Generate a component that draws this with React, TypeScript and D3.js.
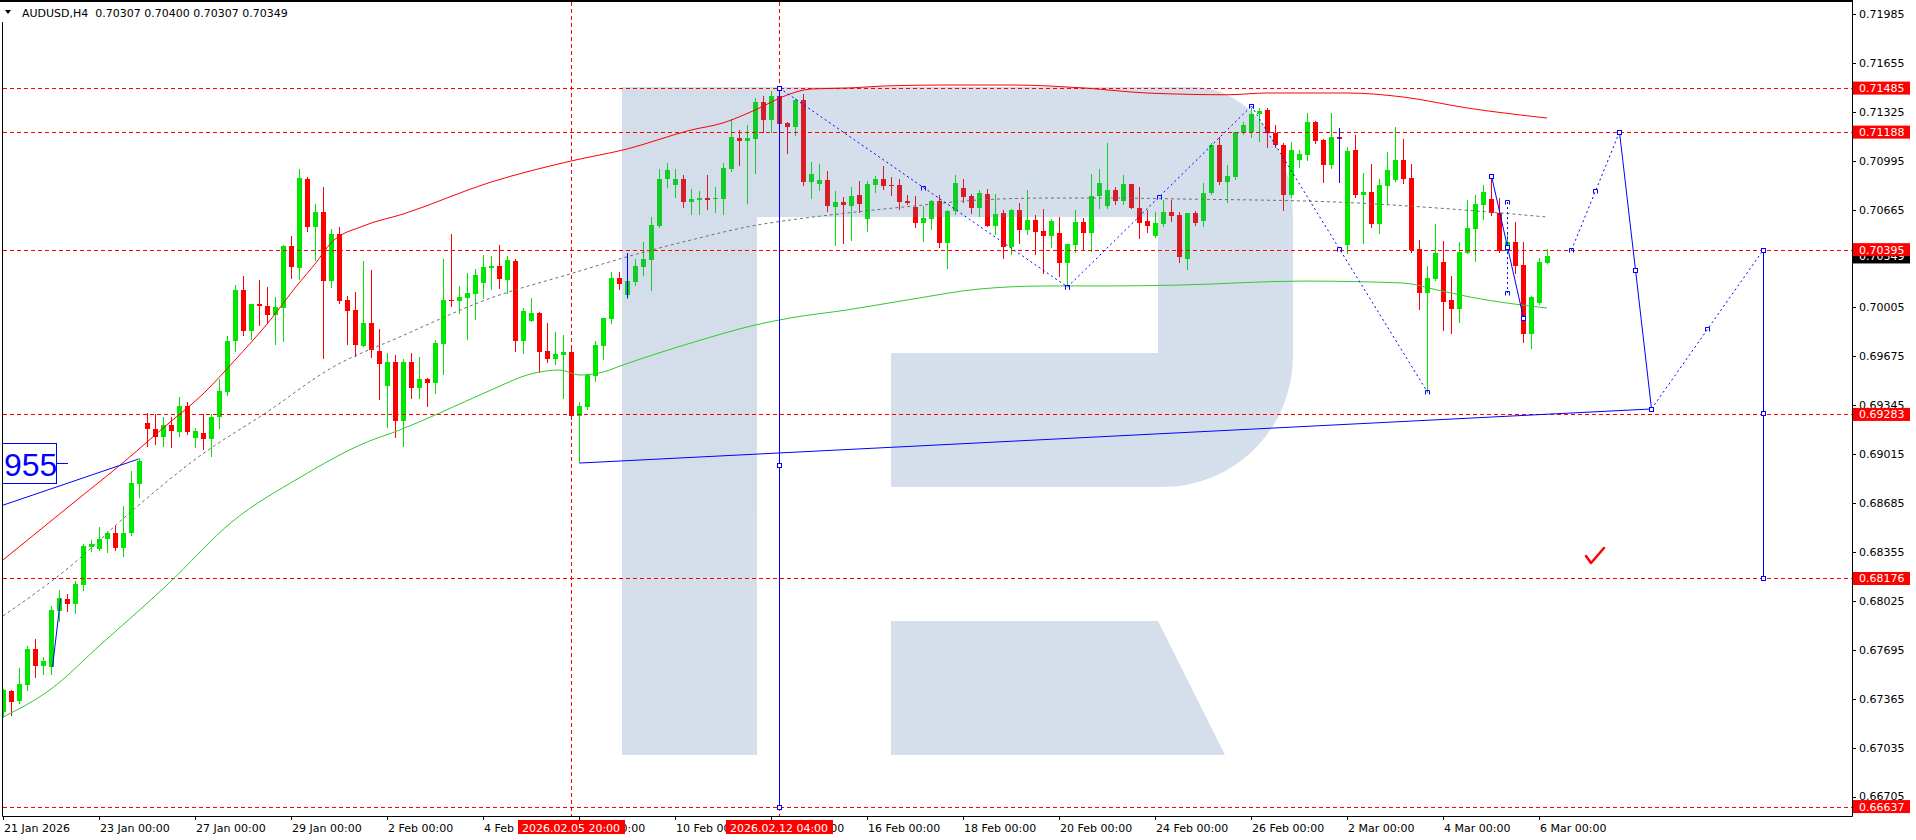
import * as d3 from "d3"

// AUDUSD H4, 21 Jan 2026 00:00 .. 6 Mar 2026 04:00 (one value per bar)
const opens = [
  0.67277, 0.67416, 0.67349, 0.67457, 0.67698, 0.67583, 0.67578, 0.67959, 0.68036, 0.68007,
  0.68132, 0.6839, 0.68378, 0.68441, 0.68482, 0.68385, 0.68482, 0.68814, 0.69224, 0.69185,
  0.69132, 0.69212, 0.69164, 0.69337, 0.69127, 0.69161, 0.6912, 0.69265, 0.69434, 0.69776,
  0.70125, 0.69848, 0.70029, 0.70017, 0.69956, 0.7, 0.70422, 0.7027, 0.70875, 0.70549,
  0.70646, 0.70181, 0.70501, 0.70053, 0.69988, 0.69747, 0.69903, 0.69711, 0.69477, 0.69634,
  0.69241, 0.69635, 0.69464, 0.69522, 0.69493, 0.69758, 0.70055, 0.70051, 0.70069, 0.70096,
  0.70172, 0.70273, 0.70285, 0.7019, 0.70318, 0.69781, 0.69916, 0.69968, 0.69711, 0.69657,
  0.69684, 0.69705, 0.69275, 0.69331, 0.69545, 0.69745, 0.69927, 0.70204, 0.70089, 0.70179,
  0.7028, 0.70325, 0.70555, 0.7087, 0.70831, 0.70872, 0.70719, 0.7073, 0.70746, 0.70737,
  0.70737, 0.70939, 0.71146, 0.7113, 0.71142, 0.71389, 0.7127, 0.71434, 0.71247, 0.71225,
  0.71405, 0.70854, 0.70838, 0.70865, 0.70685, 0.70714, 0.70692, 0.70761, 0.70604, 0.70831,
  0.70872, 0.70831, 0.70831, 0.70723, 0.70685, 0.70577, 0.70604, 0.70723, 0.70442, 0.70656,
  0.70813, 0.70757, 0.70678, 0.7077, 0.70557, 0.70645, 0.70415, 0.70663, 0.70528, 0.70595,
  0.70521, 0.70489, 0.70505, 0.70307, 0.70426, 0.70579, 0.7051, 0.70757, 0.7069, 0.70797,
  0.70726, 0.70838, 0.70674, 0.70588, 0.70489, 0.70568, 0.70647, 0.70629, 0.70334, 0.7064,
  0.70591, 0.70775, 0.71101, 0.70854, 0.70883, 0.71184, 0.71187, 0.71308, 0.71337, 0.71184,
  0.71101, 0.70764, 0.71, 0.71034, 0.71254, 0.71135, 0.70966, 0.71153, 0.70426, 0.71067,
  0.70764, 0.70782, 0.70568, 0.70825, 0.70865, 0.71, 0.70876, 0.70397, 0.70105, 0.70195,
  0.70312, 0.70055, 0.69995, 0.7037, 0.70534, 0.70696, 0.70737, 0.7064, 0.70386, 0.70444,
  0.70291, 0.69826, 0.70037, 0.70307,
]
const highs = [
  0.67433, 0.67426, 0.67573, 0.67722, 0.67771, 0.67643, 0.67988, 0.68096, 0.68072, 0.68156,
  0.68407, 0.68433, 0.68523, 0.68498, 0.6853, 0.68667, 0.68903, 0.68988, 0.69296, 0.69284,
  0.69265, 0.69265, 0.69402, 0.69368, 0.69193, 0.69284, 0.69284, 0.69525, 0.69812, 0.70157,
  0.70217, 0.70029, 0.70188, 0.70144, 0.70077, 0.70429, 0.70487, 0.7094, 0.70887, 0.70706,
  0.70819, 0.70535, 0.70549, 0.70084, 0.70108, 0.70318, 0.70258, 0.6986, 0.69699, 0.69687,
  0.69655, 0.69695, 0.69668, 0.69527, 0.69785, 0.70332, 0.70501, 0.7015, 0.70235, 0.70264,
  0.70357, 0.70355, 0.70426, 0.70352, 0.70332, 0.69999, 0.70067, 0.69977, 0.69898, 0.69842,
  0.69819, 0.69749, 0.69369, 0.69549, 0.69779, 0.69936, 0.70246, 0.70246, 0.70375, 0.7033,
  0.70449, 0.70618, 0.70937, 0.70977, 0.70937, 0.70899, 0.70802, 0.70791, 0.70899, 0.7082,
  0.70977, 0.71274, 0.71202, 0.71236, 0.7142, 0.71432, 0.71467, 0.71485, 0.71259, 0.71416,
  0.71445, 0.70989, 0.70973, 0.70926, 0.70791, 0.70753, 0.70816, 0.70858, 0.70858, 0.70894,
  0.70959, 0.70883, 0.70872, 0.70764, 0.70757, 0.70692, 0.7073, 0.70764, 0.70663, 0.70899,
  0.7087, 0.7077, 0.70797, 0.70804, 0.7077, 0.70663, 0.70667, 0.70707, 0.70797, 0.70629,
  0.70669, 0.70602, 0.70617, 0.70433, 0.70663, 0.70611, 0.70905, 0.70939, 0.71112, 0.7082,
  0.70899, 0.70838, 0.7082, 0.70663, 0.70651, 0.7073, 0.7073, 0.70651, 0.70645, 0.70656,
  0.70843, 0.71112, 0.71157, 0.70964, 0.71191, 0.71254, 0.71349, 0.71349, 0.71349, 0.71236,
  0.71112, 0.71119, 0.71067, 0.71315, 0.71263, 0.71142, 0.71315, 0.71214, 0.71085, 0.71169,
  0.7091, 0.70973, 0.7087, 0.71056, 0.71225, 0.7114, 0.70973, 0.7046, 0.70285, 0.70568,
  0.70454, 0.7022, 0.70447, 0.7073, 0.70764, 0.70831, 0.70888, 0.70741, 0.705, 0.70579,
  0.70444, 0.70082, 0.70337, 0.704,
]
const lows = [
  0.6724, 0.67252, 0.67337, 0.67421, 0.6751, 0.6753, 0.6753, 0.67891, 0.67959, 0.67944,
  0.68096, 0.68361, 0.68368, 0.68354, 0.68366, 0.6833, 0.6847, 0.68723, 0.69072, 0.69084,
  0.69072, 0.6906, 0.6914, 0.69149, 0.6906, 0.69053, 0.69005, 0.69193, 0.69414, 0.69711,
  0.69819, 0.69795, 0.69887, 0.69903, 0.69759, 0.69778, 0.70205, 0.70197, 0.70518, 0.70325,
  0.69662, 0.7014, 0.70036, 0.69759, 0.69675, 0.69747, 0.6967, 0.6939, 0.69197, 0.69132,
  0.6907, 0.69396, 0.69396, 0.69342, 0.69426, 0.69556, 0.70017, 0.69965, 0.69792, 0.69925,
  0.70071, 0.7013, 0.70136, 0.70105, 0.69711, 0.697, 0.69916, 0.69572, 0.69639, 0.69621,
  0.69392, 0.6925, 0.6896, 0.69318, 0.69511, 0.69657, 0.69898, 0.7013, 0.70071, 0.70157,
  0.70224, 0.70123, 0.7055, 0.7082, 0.7075, 0.70685, 0.70635, 0.70635, 0.70667, 0.70651,
  0.70635, 0.70926, 0.70966, 0.70712, 0.70914, 0.71191, 0.71187, 0.71235, 0.71045, 0.71169,
  0.70831, 0.70746, 0.70797, 0.70656, 0.70426, 0.70438, 0.7046, 0.70647, 0.70521, 0.70786,
  0.70804, 0.70764, 0.70667, 0.70701, 0.7055, 0.70453, 0.70534, 0.70415, 0.70274, 0.70633,
  0.70719, 0.70645, 0.70624, 0.70557, 0.70501, 0.70341, 0.70366, 0.70442, 0.70501, 0.70363,
  0.70235, 0.70415, 0.7022, 0.70163, 0.70381, 0.70397, 0.70388, 0.70674, 0.70674, 0.70703,
  0.70703, 0.70674, 0.70476, 0.70517, 0.70478, 0.70557, 0.70591, 0.70314, 0.70262, 0.70561,
  0.70555, 0.70771, 0.70838, 0.70719, 0.70872, 0.71173, 0.71157, 0.71128, 0.7109, 0.71085,
  0.70663, 0.70752, 0.70955, 0.71, 0.71117, 0.70854, 0.70948, 0.71112, 0.70375, 0.70752,
  0.70442, 0.70546, 0.7051, 0.70707, 0.70861, 0.70843, 0.70381, 0.69995, 0.69437, 0.7019,
  0.69853, 0.69835, 0.69909, 0.7037, 0.70321, 0.70602, 0.70629, 0.70381, 0.7037, 0.70235,
  0.69774, 0.69729, 0.70026, 0.70307,
]
const closes = [
  0.67421, 0.67342, 0.67465, 0.67698, 0.67583, 0.67619, 0.67963, 0.68043, 0.68007, 0.68137,
  0.68397, 0.68409, 0.68441, 0.68482, 0.68385, 0.68486, 0.68819, 0.68968, 0.69188, 0.69132,
  0.69212, 0.69168, 0.69337, 0.69164, 0.69168, 0.6912, 0.69265, 0.69441, 0.69778, 0.70125,
  0.69848, 0.70029, 0.70012, 0.69956, 0.70005, 0.70422, 0.70277, 0.7088, 0.70549, 0.70646,
  0.70181, 0.70501, 0.70048, 0.69983, 0.69752, 0.69903, 0.69715, 0.69626, 0.69634, 0.69241,
  0.69639, 0.69464, 0.6952, 0.69493, 0.69763, 0.70055, 0.70049, 0.70073, 0.701, 0.70224,
  0.70278, 0.70285, 0.70197, 0.70323, 0.69781, 0.69981, 0.69965, 0.69707, 0.69657, 0.69691,
  0.69705, 0.69275, 0.6934, 0.69549, 0.69752, 0.69936, 0.70204, 0.70165, 0.70186, 0.70285,
  0.7033, 0.70561, 0.70872, 0.70932, 0.70872, 0.70719, 0.70737, 0.70746, 0.7073, 0.70746,
  0.70944, 0.71153, 0.7113, 0.71146, 0.71389, 0.7127, 0.71434, 0.7124, 0.71225, 0.71405,
  0.70854, 0.70905, 0.70865, 0.7069, 0.70714, 0.70696, 0.70757, 0.70705, 0.70838, 0.70872,
  0.70824, 0.70826, 0.70719, 0.70707, 0.70577, 0.70611, 0.70723, 0.70442, 0.70656, 0.70847,
  0.70753, 0.70678, 0.7078, 0.70557, 0.70633, 0.70415, 0.70663, 0.70528, 0.70595, 0.70517,
  0.70489, 0.70588, 0.70307, 0.70433, 0.70579, 0.7051, 0.70757, 0.70843, 0.70797, 0.70726,
  0.70838, 0.70674, 0.70577, 0.70557, 0.70573, 0.70647, 0.70624, 0.70343, 0.7064, 0.70573,
  0.70775, 0.71101, 0.70852, 0.70892, 0.71187, 0.71236, 0.7131, 0.7133, 0.7118, 0.71101,
  0.70764, 0.71067, 0.7104, 0.71254, 0.71128, 0.70966, 0.71153, 0.71142, 0.71061, 0.70764,
  0.70782, 0.70568, 0.70831, 0.70932, 0.71, 0.70872, 0.70393, 0.70105, 0.70202, 0.7037,
  0.70044, 0.69995, 0.70379, 0.70543, 0.70703, 0.70786, 0.70645, 0.70386, 0.70449, 0.70287,
  0.69826, 0.70073, 0.70309, 0.70349,
]

// indicator lines: [bar, price]
const redLine = [
  [0, 0.68301], [8, 0.68652], [16, 0.69003], [20, 0.69191], [25, 0.69421], [29, 0.6965],
  [33, 0.69893], [37, 0.7017], [39, 0.70298], [41, 0.7044], [45, 0.70554], [50, 0.70635],
  [61, 0.70851], [71, 0.70993], [78, 0.71074], [86, 0.71202], [90, 0.7125], [94, 0.71337],
  [98, 0.71438], [101, 0.71479], [106, 0.71486], [110, 0.71499], [118, 0.71506], [126, 0.71506],
  [135, 0.71486], [143, 0.71452], [153, 0.7144], [158, 0.71452], [168, 0.71452], [175, 0.71425],
  [183, 0.71351], [193, 0.71283],
]
const greenLine = [
  [0, 0.67241], [6, 0.6743], [12, 0.6772], [20.5, 0.68132], [28.75, 0.68564], [37, 0.68854],
  [45.5, 0.69097], [49.6, 0.69178], [54.6, 0.69293], [61, 0.69448], [66, 0.69556], [69.6, 0.69583],
  [72, 0.69549], [75, 0.69569], [77.5, 0.69617], [86, 0.69765], [94, 0.69886], [98.4, 0.69934],
  [105.5, 0.69988], [113.75, 0.70062], [122, 0.70129], [130.5, 0.7015], [138.75, 0.7015],
  [147, 0.70156], [162.5, 0.70183], [175, 0.7017], [179.25, 0.70123], [183.4, 0.70075], [193, 0.70001],
]
const grayLine = [
  [0, 0.67923], [8, 0.6824], [16.25, 0.68638], [24.6, 0.69003], [33, 0.69299], [41.25, 0.69603],
  [49.6, 0.69806], [61, 0.70069], [71.25, 0.70237], [77.5, 0.70339], [86, 0.7046], [94.25, 0.70561],
  [98.4, 0.70595], [105.5, 0.70642], [113.75, 0.70689], [122, 0.7073], [130.5, 0.70743],
  [138.75, 0.70743], [147, 0.70737], [166.75, 0.70716], [179.25, 0.70676], [193, 0.70615],
]

const levels = [0.71485, 0.71188, 0.70395, 0.69283, 0.68176, 0.66637]
const priceTicks = [
  0.71985, 0.71655, 0.71325, 0.70995, 0.70665, 0.70005, 0.69675, 0.69345,
  0.69015, 0.68685, 0.68355, 0.68025, 0.67695, 0.67365, 0.67035, 0.66705,
]
const timeBars = [0, 12, 24, 36, 48, 60, 72, 84, 96, 108, 120, 132, 144, 156, 168, 180, 192]
const timeLabels = [
  "21 Jan 2026", "23 Jan 00:00", "27 Jan 00:00", "29 Jan 00:00", "2 Feb 00:00", "4 Feb 00:00",
  "6 Feb 00:00", "10 Feb 00:00", "12 Feb 00:00", "16 Feb 00:00", "18 Feb 00:00", "20 Feb 00:00",
  "24 Feb 00:00", "26 Feb 00:00", "2 Mar 00:00", "4 Mar 00:00", "6 Mar 00:00",
]
const markedBars = [71, 97]
const markedLabels = ["2026.02.05 20:00", "2026.02.12 04:00"]
const lastPrice = 0.70349

// forecast drawings: [bar, price]
const solidLines = [
  [[-0.4, 0.68665], [16.9, 0.68982]],
  [[72, 0.68955], [206, 0.6932]],
  [[97, 0.71485], [97, 0.66637]],
  [[186, 0.70892], [188, 0.70413], [190, 0.69934]],
  [[202, 0.71188], [204, 0.70258], [206, 0.6932]],
  [[220, 0.70395], [220, 0.68176]],
  [[6.1, 0.67579], [7.1, 0.68038]],
  [[78, 0.70372], [78, 0.70069]],
  [[167, 0.71216], [167, 0.70845]],
]
const dashedLines = [
  [[97, 0.71485], [133, 0.70143]],
  [[133, 0.70143], [156, 0.71364]],
  [[156, 0.71364], [178, 0.69434]],
  [[196, 0.70393], [202, 0.71188]],
  [[206, 0.6932], [220, 0.70395]],
  [[188, 0.70716], [188, 0.70102]],
]
const anchors = [
  [97, 0.71485], [97, 0.6894], [97, 0.66637], [186, 0.70892], [188, 0.70413], [190, 0.69934],
  [202, 0.71188], [204, 0.70258], [206, 0.6932], [220, 0.70395], [220, 0.69293], [220, 0.68176],
]

const W = 1916
const H = 840
const plotRight = 1852
const plotBottom = 816
const font = "'DejaVu Sans', sans-serif"

export default function App() {
  const x = d3.scaleLinear().domain([0, 193]).range([3, 1547])
  const y = d3.scaleLinear().domain([0.71985, 0.66705]).range([14, 796.5])
  const px = (v: number) => Math.round(x(v)) + 0.5
  const py = (v: number) => Math.round(y(v)) + 0.5

  const smooth = d3
    .line<number[]>()
    .x((d) => x(d[0]))
    .y((d) => y(d[1]))
    .curve(d3.curveMonotoneX)
  const straight = d3
    .line<number[]>()
    .x((d) => px(d[0]))
    .y((d) => y(d[1]))

  const bull = "#00e600"
  const bear = "#ff0000"

  const bracket = (bx: number, by: number) => `M${bx - 2},${by + 2}V${by - 2}H${bx + 2}V${by + 2}`

  return (
    <div style={{ position: "fixed", left: 0, top: 0, width: W, height: H, background: "#fff" }}>
      <svg width={W} height={H} style={{ display: "block" }} fontFamily={font}>
        <defs>
          <clipPath id="plot">
            <rect x={3} y={2} width={plotRight - 3} height={plotBottom - 2} />
          </clipPath>
        </defs>
        <rect width={W} height={H} fill="#fff" />

        <g clipPath="url(#plot)">
          {/* candles */}
          {opens.map((o, i) => {
            const c = closes[i]
            const col = c >= o ? bull : bear
            const cx = px(i)
            const top = Math.round(y(Math.max(o, c)))
            const bot = Math.round(y(Math.min(o, c)))
            return (
              <g key={i}>
                <line x1={cx} x2={cx} y1={Math.round(y(highs[i]))} y2={Math.round(y(lows[i])) + 1} stroke={col} />
                <rect x={cx - 2.5} y={top} width={5} height={Math.max(1, bot - top)} fill={col} />
              </g>
            )
          })}

          {/* watermark, laid over the candles */}
          <g fill="rgb(82,123,173)" opacity={0.243}>
            <rect x={622} y={87} width={135} height={668} />
            <path d="M757,87H1193A100,130 0 0 1 1293,217V356A130,131 0 0 1 1163,487H891V353H1158V217H757Z" />
            <path d="M891,621H1158L1225,755H891Z" />
          </g>

          {/* level lines */}
          {levels.map((l) => (
            <line key={l} x1={3} x2={plotRight} y1={py(l)} y2={py(l)} stroke="#ff0000" strokeDasharray="4,3" />
          ))}
          {markedBars.map((b) => (
            <line key={b} x1={px(b)} x2={px(b)} y1={2} y2={plotBottom} stroke="#ff0000" strokeDasharray="4,3" />
          ))}

          {/* indicator lines */}
          <path d={smooth(grayLine) || ""} fill="none" stroke="#6e6e6e" strokeDasharray="3,3" />
          <path d={smooth(greenLine) || ""} fill="none" stroke="#32c832" />
          <path d={smooth(redLine) || ""} fill="none" stroke="#ff0000" />

          {/* blue drawings */}
          {solidLines.map((s, i) => (
            <path key={i} d={straight(s) || ""} fill="none" stroke="#0000ff" />
          ))}
          {dashedLines.map((s, i) => (
            <path key={i} d={straight(s) || ""} fill="none" stroke="#0000ff" strokeDasharray="2,3" />
          ))}
          {dashedLines.map((s, i) => {
            const [a, b] = s
            const mid = [(a[0] + b[0]) / 2, (a[1] + b[1]) / 2]
            return (
              <path
                key={i}
                d={[a, mid, b].map((p) => bracket(px(p[0]), py(p[1]))).join("")}
                fill="none"
                stroke="#0000ff"
              />
            )
          })}
          {anchors.map((a, i) => (
            <rect key={i} x={px(a[0]) - 2} y={py(a[1]) - 2} width={4} height={4} fill="#fff" stroke="#0000ff" />
          ))}

          {/* price tag on the left */}
          <rect x={2.5} y={443.5} width={54} height={40} fill="#fff" stroke="#0000ff" />
          <line x1={57} x2={68} y1={463.5} y2={463.5} stroke="#0000ff" />
          <text x={4} y={476} fontFamily="'Liberation Sans', Arial, sans-serif" fontSize={32} fill="#0000ff">
            955
          </text>

          {/* check mark */}
          <path
            d={`M${x(199) - 9},${y(0.68328)}l5,7l13,-15`}
            fill="none"
            stroke="#ff0000"
            strokeWidth={2.5}
            strokeLinecap="round"
            strokeLinejoin="round"
          />
        </g>

        {/* frame */}
        <path d={`M2.5,22V${plotBottom + 0.5}H${plotRight + 0.5}V1.5`} fill="none" stroke="#000" />
        <line x1={0} x2={plotRight + 1} y1={1} y2={1} stroke="#000" strokeWidth={2} />

        {/* header */}
        <path d="M5,10H11L8,14Z" fill="#000" />
        <text x={22} y={17} fontSize={11} fill="#000">
          AUDUSD,H4{"\u00a0\u00a0"}0.70307 0.70400 0.70307 0.70349
        </text>

        {/* price axis */}
        {priceTicks.map((t) => (
          <g key={t}>
            <line x1={plotRight} x2={plotRight + 4} y1={py(t)} y2={py(t)} stroke="#000" />
            <text x={1859} y={y(t)} dy="0.36em" fontSize={11} fill="#000">
              {t.toFixed(5)}
            </text>
          </g>
        ))}
        <rect x={1853} y={y(lastPrice) - 6} width={57} height={13} fill="#000" />
        <text x={1859} y={y(lastPrice)} dy="0.36em" fontSize={11} fill="#fff">
          {lastPrice.toFixed(5)}
        </text>
        {levels.map((l) => (
          <g key={l}>
            <rect x={1853} y={y(l) - 6.5} width={57} height={13} fill="#ff0000" />
            <text x={1859} y={y(l)} dy="0.36em" fontSize={11} fill="#fff">
              {l.toFixed(5)}
            </text>
          </g>
        ))}

        {/* time axis */}
        {timeBars.map((b, i) => (
          <g key={b}>
            <line x1={px(b)} x2={px(b)} y1={plotBottom} y2={plotBottom + 4} stroke="#000" />
            <text x={px(b) + 0.5} y={832} fontSize={11} fill="#000">
              {timeLabels[i]}
            </text>
          </g>
        ))}
        {markedBars.map((b, i) => (
          <g key={b}>
            <rect x={x(b) - 53} y={820} width={107} height={14} fill="#ff0000" />
            <text x={x(b)} y={832} fontSize={11} fill="#fff" textAnchor="middle">
              {markedLabels[i]}
            </text>
          </g>
        ))}
      </svg>
    </div>
  )
}
